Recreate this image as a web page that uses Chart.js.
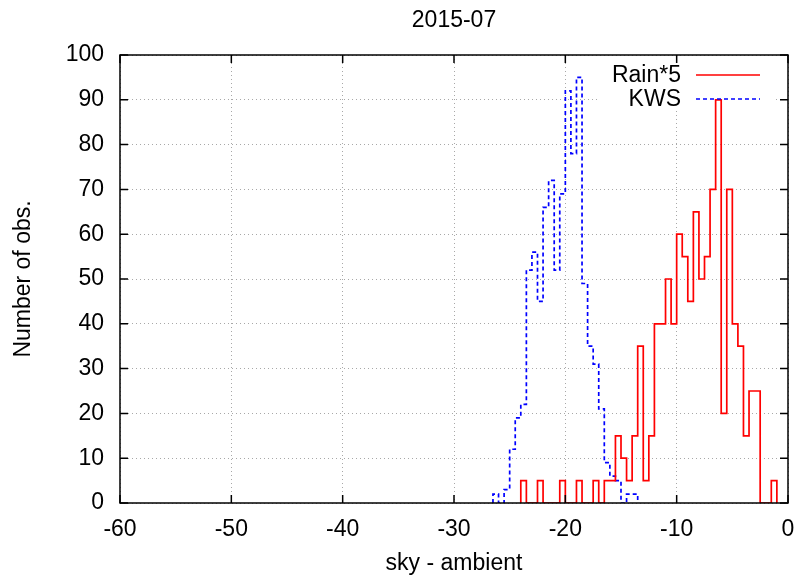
<!DOCTYPE html>
<html>
<head>
<meta charset="utf-8">
<title>2015-07</title>
<script src="https://cdn.jsdelivr.net/npm/chart.js@4.4.1/dist/chart.umd.min.js"></script>
<style>
  html, body { margin: 0; padding: 0; background: #fff; }
  #wrap { width: 796px; height: 576px; }
</style>
</head>
<body>
<div id="wrap"><canvas id="chart" width="796" height="576"></canvas></div>
<script>
const chartTitle = '2015-07';
const xTitle = 'sky - ambient';
const yTitle = 'Number of obs.';
const binWidth = 0.5;

// KWS histogram: left edge of each bin and its count
const kwsBins = [-26.5, -26, -25.5, -25, -24.5, -24, -23.5, -23, -22.5, -22, -21.5, -21, -20.5,
                 -20, -19.5, -19, -18.5, -18, -17.5, -17, -16.5, -16, -15.5, -15, -14.5, -14];
const kwsCounts = [2, 0, 3, 12, 19, 22, 52, 56, 45, 66, 72, 52, 69,
                   92, 78, 95, 49, 35, 31, 21, 9, 6, 5, 0, 2, 2];

// Rain histogram (counts already x5)
const rainBins = [-24, -23.5, -23, -22.5, -22, -21.5, -21, -20.5, -20, -19.5, -19, -18.5,
                  -18, -17.5, -17, -16.5, -16, -15.5, -15, -14.5, -14, -13.5, -13, -12.5,
                  -12, -11.5, -11, -10.5, -10, -9.5, -9, -8.5, -8, -7.5, -7, -6.5,
                  -6, -5.5, -5, -4.5, -4, -3.5, -3, -2.5, -2, -1.5];
const rainCounts = [5, 0, 0, 5, 0, 0, 0, 5, 0, 0, 5, 0,
                    0, 5, 0, 5, 5, 15, 10, 5, 15, 35, 5, 15,
                    40, 40, 50, 40, 60, 55, 45, 65, 50, 55, 70, 90,
                    20, 70, 40, 35, 15, 25, 25, 0, 0, 5];

const xTicks = [-60, -50, -40, -30, -20, -10, 0];
const yTicks = [0, 10, 20, 30, 40, 50, 60, 70, 80, 90, 100];

const FONT = "'Liberation Sans', Arial, Helvetica, sans-serif";
const FSIZE = 23;

// outline of a histogram, dropping to zero at both ends
function stepPoints(bins, counts) {
  const pts = [{ x: bins[0], y: 0 }];
  bins.forEach((b, i) => pts.push({ x: b, y: counts[i] }));
  pts.push({ x: bins[bins.length - 1] + binWidth, y: 0 });
  return pts;
}

// gnuplot look: border in front, inward ticks on all sides, key on the left of its sample
const gnuplotFrame = {
  id: 'gnuplotFrame',
  beforeDatasetsDraw(chart) {
    const { ctx, chartArea: a } = chart;
    ctx.save();
    ctx.fillStyle = '#fff';
    ctx.fillRect(a.right - 191, a.top + 1, 176, 54);
    ctx.restore();
  },
  afterDatasetsDraw(chart) {
    const { ctx, chartArea: a, scales: { x, y } } = chart;
    const tl = 8;
    ctx.save();
    ctx.strokeStyle = '#000';
    ctx.lineWidth = 1.5;
    ctx.strokeRect(a.left, a.top, a.right - a.left, a.bottom - a.top);
    ctx.beginPath();
    xTicks.forEach(v => {
      const px = x.getPixelForValue(v);
      ctx.moveTo(px, a.bottom); ctx.lineTo(px, a.bottom - tl);
      ctx.moveTo(px, a.top); ctx.lineTo(px, a.top + tl);
    });
    yTicks.forEach(v => {
      const py = y.getPixelForValue(v);
      ctx.moveTo(a.left, py); ctx.lineTo(a.left + tl, py);
      ctx.moveTo(a.right, py); ctx.lineTo(a.right - tl, py);
    });
    ctx.stroke();

    // key
    ctx.font = FSIZE + 'px ' + FONT;
    ctx.fillStyle = '#000';
    ctx.textAlign = 'right';
    ctx.textBaseline = 'middle';
    chart.data.datasets.forEach((ds, i) => {
      const ly = a.top + 20 + i * 24;
      ctx.fillText(ds.label, a.right - 107, ly + 1);
      ctx.beginPath();
      ctx.strokeStyle = ds.borderColor;
      ctx.lineWidth = ds.borderWidth;
      ctx.setLineDash(ds.borderDash || []);
      ctx.moveTo(a.right - 92, ly);
      ctx.lineTo(a.right - 28, ly);
      ctx.stroke();
    });
    ctx.setLineDash([]);

    // title
    ctx.textAlign = 'center';
    ctx.fillText(chartTitle, (a.left + a.right) / 2, 21);
    ctx.restore();
  }
};

new Chart(document.getElementById('chart'), {
  type: 'line',
  data: {
    datasets: [
      {
        label: 'Rain*5',
        data: stepPoints(rainBins, rainCounts),
        stepped: 'before',
        borderColor: '#ff0000',
        borderWidth: 1.7,
        pointRadius: 0,
        fill: false
      },
      {
        label: 'KWS',
        data: stepPoints(kwsBins, kwsCounts),
        stepped: 'before',
        borderColor: '#0000ff',
        borderWidth: 1.7,
        borderDash: [4, 3],
        pointRadius: 0,
        fill: false
      }
    ]
  },
  options: {
    responsive: false,
    devicePixelRatio: 1,
    animation: false,
    layout: { padding: { top: 55, right: 8, left: 0, bottom: 0 } },
    plugins: {
      legend: { display: false },
      title: { display: false },
      tooltip: { enabled: false }
    },
    scales: {
      x: {
        type: 'linear',
        min: -60,
        max: 0,
        afterBuildTicks: s => { s.ticks = xTicks.map(v => ({ value: v })); },
        afterFit: s => { s.height = 73; s.paddingLeft = 0; s.paddingRight = 0; },
        ticks: { color: '#000', padding: 13, maxRotation: 0, font: { family: FONT, size: FSIZE } },
        grid: { color: '#a8a8a8', lineWidth: 1, drawTicks: false },
        border: { display: false, dash: [1, 3] },
        title: { display: true, text: xTitle, color: '#000', padding: { top: 0, bottom: -1 }, font: { family: FONT, size: FSIZE } }
      },
      y: {
        min: 0,
        max: 100,
        afterBuildTicks: s => { s.ticks = yTicks.map(v => ({ value: v })); },
        afterFit: s => { s.width = 120; s.paddingTop = 0; s.paddingBottom = 0; },
        ticks: { color: '#000', padding: 16, font: { family: FONT, size: FSIZE } },
        grid: { color: '#a8a8a8', lineWidth: 1, drawTicks: false },
        border: { display: false, dash: [1, 3] },
        title: { display: true, text: yTitle, color: '#000', padding: { top: 10, bottom: 0 }, font: { family: FONT, size: FSIZE } }
      }
    }
  },
  plugins: [gnuplotFrame]
});
</script>
</body>
</html>
